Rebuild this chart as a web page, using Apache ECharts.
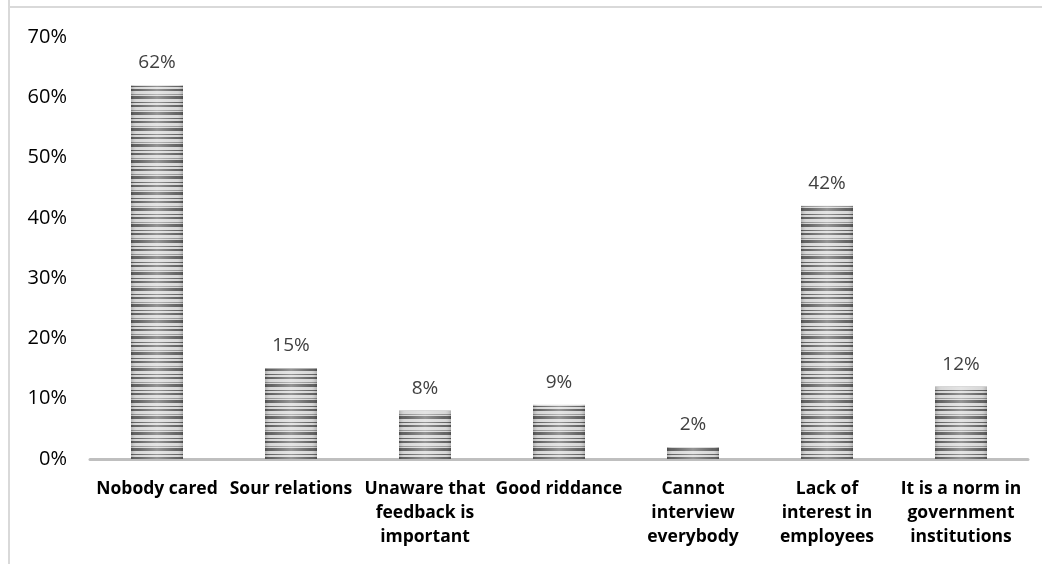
<!DOCTYPE html>
<html><head><meta charset="utf-8">
<script src="https://cdn.jsdelivr.net/npm/echarts@6/dist/echarts.min.js"></script>
<style>html,body{margin:0;padding:0;background:#fff}#c{width:1042px;height:564px}</style>
</head><body><div id="c"></div>
<script>
const categories = ["Nobody cared", "Sour relations", "Unaware that\nfeedback is\nimportant", "Good riddance", "Cannot\ninterview\neverybody", "Lack of\ninterest in\nemployees", "It is a norm in\ngovernment\ninstitutions"];
const values = [62, 15, 8, 9, 2, 42, 12];
const yTicks = [0, 10, 20, 30, 40, 50, 60, 70];

// stripe pattern
const pc = document.createElement('canvas');
pc.width = 4; pc.height = 16;
const px = pc.getContext('2d');
const D = '#5c5c5c', L = '#d6d6d6', M = '#8e8e8e';
const rows = [D,D,D,L,L,L,D,L,L,D,D,L,L,L,M,L];
rows.forEach((c,i)=>{px.fillStyle=c;px.fillRect(0,i,4,1);});

const chart = echarts.init(document.getElementById('c'));
chart.setOption({
  animation:false,
  textStyle:{fontFamily:'"Open Sans", sans-serif'},
  grid:{left:90,right:14,top:37,bottom:105,containLabel:false},
  graphic:[
    {type:'line',shape:{x1:9,y1:0,x2:9,y2:564},style:{stroke:'#d9d9d9',lineWidth:2}},
    {type:'line',shape:{x1:8,y1:7,x2:1042,y2:7},style:{stroke:'#d9d9d9',lineWidth:2}}
  ],
  xAxis:{type:'category',data:categories,
    axisLine:{lineStyle:{color:'#bfbfbf',width:3}},axisTick:{show:false},
    axisLabel:{interval:0,color:'#000',fontWeight:'bold',fontSize:17.5,lineHeight:24,margin:18,fontFamily:'"Open Sans", sans-serif'}},
  yAxis:{type:'value',min:0,max:70,interval:10,
    axisLine:{show:false},axisTick:{show:false},splitLine:{show:false},
    axisLabel:{color:'#000',fontSize:20,margin:23,formatter:v=>yTicks.includes(v)?v+'%':''}},
  series:[
    {type:'bar',data:values,barWidth:52,
      itemStyle:{color:{image:pc,repeat:'repeat'}},
      label:{show:true,position:'top',distance:13,color:'#404040',fontSize:19,formatter:p=>p.value+'%'}},
    {type:'bar',data:values,barWidth:52,barGap:'-100%',silent:true,z:3,
      itemStyle:{color:{type:'linear',x:0,y:0,x2:1,y2:0,colorStops:[
        {offset:0,color:'rgba(0,0,0,0.18)'},{offset:0.12,color:'rgba(255,255,255,0.05)'},
        {offset:0.5,color:'rgba(255,255,255,0.35)'},{offset:0.88,color:'rgba(255,255,255,0.05)'},
        {offset:1,color:'rgba(0,0,0,0.18)'}]}}}
  ]
});
</script></body></html>
